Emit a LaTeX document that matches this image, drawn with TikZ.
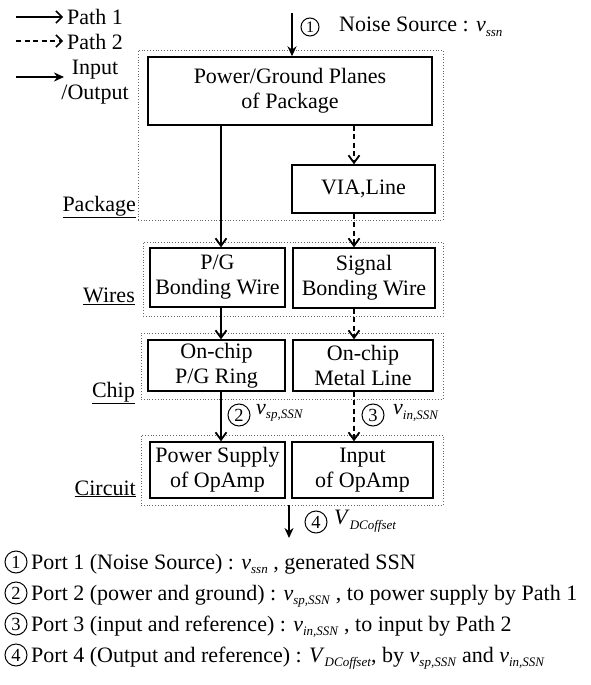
\documentclass[tikz,border=0pt]{standalone}
\usepackage{fontspec}
\setmainfont{Liberation Serif}
\usetikzlibrary{arrows.meta}
\newcommand{\vsb}[2]{\textit{#1}\raisebox{-0.45ex}{\fontsize{13}{13}\selectfont\textit{#2}}}
\begin{document}
\begin{tikzpicture}[x=1pt,y=-1pt,
  font=\fontsize{22}{25}\selectfont,
  box/.style={draw, line width=1.4pt, align=center, inner sep=0pt},
  grp/.style={draw=black!60, dotted, line width=0.8pt, inner sep=0pt},
  p1/.style={line width=2.1pt, -{Straight Barb[length=7.5pt,width=11pt,line width=1.8pt]}},
  p2/.style={line width=2pt, dash pattern=on 5pt off 3.5pt, -{Straight Barb[length=7.5pt,width=11pt,line width=1.8pt]}},
  lg1/.style={line width=1.5pt, -{Straight Barb[length=6pt,width=12pt,line width=1.5pt]}},
  lg2/.style={line width=1.5pt, dash pattern=on 5pt off 3.5pt, -{Straight Barb[length=6pt,width=12pt,line width=1.5pt]}},
  io/.style={line width=2.4pt, -{Stealth[length=10pt,width=9pt]}},
  cn/.style={circle, draw, line width=1pt, inner sep=0pt, minimum size=22pt, font=\fontsize{18.5}{18.5}\selectfont},
  txt/.style={inner sep=0pt},
  lab/.style={inner sep=0pt, anchor=base east}
]
\useasboundingbox (0,0) rectangle (590,685);

% legend
\coordinate (a1) at (16,17); \coordinate (b1) at (63,17);
\draw[lg1] (a1) -- (b1);
\node[txt, anchor=west] (lp1) at (67,17) {Path 1};
\coordinate (a2) at (16,41); \coordinate (b2) at (63,41);
\draw[lg2] (a2) -- (b2);
\node[txt, anchor=west] (lp2) at (67,42) {Path 2};
\coordinate (a3) at (16,77); \coordinate (b3) at (64,77);
\draw[io] (a3) -- (b3);
\node[txt, align=center] (lio) at (95,82) {Input\\/Output};

% group frames
\node[grp, minimum width=305pt, minimum height=170pt] (pkg) at (290.5,135) {};
\node[grp, minimum width=300pt, minimum height=74pt] (wrs) at (293,279) {};
\node[grp, minimum width=302pt, minimum height=66pt] (chp) at (292,366) {};
\node[grp, minimum width=302pt, minimum height=70pt] (cir) at (292,470) {};

% group labels
\node[lab] (lpk) at (136,211) {\underline{Package}};
\node[lab] (lwr) at (135,302) {\underline{Wires}};
\node[lab] (lch) at (135,397) {\underline{Chip}};
\node[lab] (lci) at (136,495) {\underline{Circuit}};

% boxes
\node[box, minimum width=284pt, minimum height=68pt] (pg) at (290,91) {Power/Ground Planes\\of Package};
\node[box, minimum width=143pt, minimum height=48pt] (via) at (363.5,189) {VIA,Line};
\node[box, minimum width=135pt, minimum height=59pt] (pgw) at (217.5,277.5) {P/G\\Bonding Wire};
\node[box, minimum width=142pt, minimum height=60pt] (sbw) at (364,278) {Signal\\Bonding Wire};
\node[box, minimum width=137pt, minimum height=51pt] (ring) at (216.5,365.5) {On-chip\\P/G Ring};
\node[box, minimum width=140pt, minimum height=51pt] (metal) at (363,365.5) {On-chip\\Metal Line};
\node[box, minimum width=135pt, minimum height=56pt] (ps) at (217.5,470) {Power Supply\\of OpAmp};
\node[box, minimum width=141pt, minimum height=56pt] (inp) at (362.5,470) {Input\\of OpAmp};

% noise source
\coordinate (ns) at (292,13);
\draw[io] (ns) -- (ns |- pg.north);
\node[cn, minimum size=18pt, font=\fontsize{16}{16}\selectfont] (c1t) at (310,27) {1};
\node[txt, anchor=west] (nst) at (339,27) {Noise Source : \vsb{v}{ssn}};

% paths
\coordinate (lx) at (221,0); \coordinate (rx) at (354,0);
\draw[p1] (pg.south -| lx) -- (pgw.north -| lx);
\draw[p2] (pg.south -| rx) -- (via.north -| rx);
\draw[p2] (via.south -| rx) -- (sbw.north -| rx);
\draw[p1] (pgw.south -| lx) -- (ring.north -| lx);
\draw[p2] (sbw.south -| rx) -- (metal.north -| rx);
\draw[p1] (ring.south -| lx) -- (ps.north -| lx);
\draw[p2] (metal.south -| rx) -- (inp.north -| rx);

\node[cn] (c2m) at (239,415) {2};
\node[txt, anchor=west] (v2m) at (256,413) {\vsb{v}{sp,SSN}};
\node[cn] (c3m) at (373,415) {3};
\node[txt, anchor=west] (v3m) at (393,413) {\vsb{v}{in,SSN}};

% output
\coordinate (oe) at (289,538);
\draw[io] (cir.south -| oe) -- (oe);
\node[cn] (c4m) at (316,522) {4};
\node[txt, anchor=west] (v4m) at (334,521) {\vsb{V}{DCoffset}};

% bottom list
\node[cn] (b1c) at (16,562) {1};
\node[txt, anchor=base west] (b1t) at (31,569) {Port 1 (Noise Source) : \vsb{v}{ssn} , generated SSN};
\node[cn] (b2c) at (16,593) {2};
\node[txt, anchor=base west] (b2t) at (31,600) {Port 2 (power and ground) : \vsb{v}{sp,SSN} , to power supply by Path 1};
\node[cn] (b3c) at (16,624) {3};
\node[txt, anchor=base west] (b3t) at (31,631) {Port 3 (input and reference) : \vsb{v}{in,SSN} , to input by Path 2};
\node[cn] (b4c) at (16,655) {4};
\node[txt, anchor=base west] (b4t) at (31,662) {Port 4 (Output and reference) : \vsb{V}{DCoffset}, by \vsb{v}{sp,SSN} and \vsb{v}{in,SSN}};
\end{tikzpicture}
\end{document}
